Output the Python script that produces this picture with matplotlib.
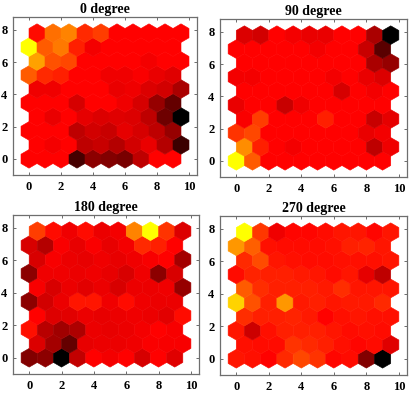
import numpy as np
import matplotlib
matplotlib.use("Agg")
import matplotlib.pyplot as plt
from matplotlib.collections import PolyCollection
from matplotlib.colors import LinearSegmentedColormap, Normalize

titles = ["0 degree", "90 degree", "180 degree", "270 degree"]

# cell intensities (0 = black, 255 = red, 510 = yellow), rows bottom -> top
plane_0 = [
    [255, 255, 255, 70, 140, 130, 120, 190, 255, 255],
    [255, 245, 255, 190, 200, 180, 210, 235, 180, 60],
    [255, 255, 255, 190, 210, 200, 230, 215, 190, 150],
    [255, 235, 255, 230, 220, 225, 220, 190, 110, 0],
    [255, 255, 255, 215, 255, 255, 240, 215, 150, 100],
    [240, 240, 255, 255, 255, 235, 240, 220, 210, 170],
    [345, 295, 285, 255, 255, 240, 240, 250, 235, 225],
    [415, 335, 325, 255, 255, 255, 255, 245, 255, 255],
    [510, 345, 375, 285, 245, 255, 255, 255, 255, 255],
    [265, 365, 385, 295, 315, 255, 255, 255, 255, 255],
]
plane_90 = [
    [510, 345, 255, 255, 255, 255, 255, 255, 255, 255],
    [395, 285, 255, 245, 255, 255, 255, 255, 190, 240],
    [305, 325, 255, 255, 255, 255, 255, 255, 235, 245],
    [250, 315, 255, 255, 255, 285, 255, 255, 200, 230],
    [235, 255, 255, 200, 240, 255, 255, 255, 255, 255],
    [255, 255, 255, 255, 255, 255, 215, 255, 245, 255],
    [245, 245, 255, 255, 255, 255, 245, 255, 235, 220],
    [255, 255, 255, 255, 255, 255, 255, 255, 170, 150],
    [255, 255, 255, 255, 255, 245, 255, 255, 200, 90],
    [220, 210, 255, 245, 235, 235, 255, 255, 170, 0],
]
plane_180 = [
    [130, 140, 0, 195, 255, 245, 255, 215, 255, 225],
    [220, 165, 100, 232, 237, 237, 240, 250, 248, 248],
    [270, 185, 160, 175, 237, 232, 237, 245, 255, 248],
    [255, 222, 227, 237, 232, 237, 240, 237, 227, 265],
    [140, 210, 237, 275, 275, 240, 265, 240, 237, 237],
    [248, 217, 237, 227, 237, 217, 237, 237, 240, 150],
    [140, 240, 240, 237, 240, 232, 217, 240, 140, 217],
    [217, 248, 237, 232, 240, 232, 240, 248, 255, 165],
    [217, 180, 250, 232, 250, 232, 245, 295, 285, 255],
    [315, 265, 240, 265, 237, 245, 385, 510, 305, 220],
]
plane_270 = [
    [275, 270, 255, 295, 325, 305, 260, 265, 130, 0],
    [270, 265, 265, 305, 295, 285, 270, 260, 265, 225],
    [275, 205, 270, 285, 285, 285, 275, 265, 270, 265],
    [300, 285, 285, 290, 280, 255, 270, 275, 270, 270],
    [465, 335, 285, 405, 280, 285, 275, 280, 280, 295],
    [345, 300, 285, 285, 285, 280, 300, 275, 275, 275],
    [265, 290, 285, 285, 280, 275, 265, 275, 230, 190],
    [295, 330, 275, 270, 265, 265, 270, 270, 270, 275],
    [405, 350, 270, 265, 265, 265, 270, 285, 290, 275],
    [510, 310, 240, 260, 260, 265, 275, 275, 260, 275],
]
planes = [plane_0, plane_90, plane_180, plane_270]

x_ticks = [0, 2, 4, 6, 8, 10]
y_ticks = [0, 2, 4, 6, 8]

cmap = LinearSegmentedColormap.from_list(
    "blk_red_yel", [(0.0, (0, 0, 0)), (0.5, (1, 0, 0)), (1.0, (1, 1, 0))])
norm = Normalize(0, 510)

fig = plt.figure(figsize=(4.11, 3.94), dpi=100)
positions = [
    [13 / 411, (394 - 175) / 394, 184 / 411, 158 / 394],
    [220 / 411, (394 - 177) / 394, 187 / 411, 158 / 394],
    [13 / 411, (394 - 374) / 394, 186 / 411, 159 / 394],
    [220 / 411, (394 - 375) / 394, 187 / 411, 159 / 394],
]

h = np.sqrt(3) / 2
r = 1 / np.sqrt(3)
ang = np.deg2rad(np.arange(6) * 60 + 30)
hx = r * np.cos(ang)
hy = r * np.sin(ang)

for pos, title, plane in zip(positions, titles, planes):
    ax = fig.add_axes(pos)
    vals = np.array(plane, dtype=float)
    nrow, ncol = vals.shape
    verts = []
    colors = []
    for i in range(nrow):
        for j in range(ncol):
            cx = j + 0.5 * (i % 2)
            cy = i * h
            verts.append(np.column_stack([cx + hx, cy + hy]))
            colors.append(vals[i, j])
    pc = PolyCollection(verts, array=np.array(colors), cmap=cmap, norm=norm,
                        edgecolors="face", linewidths=0.4)
    ax.add_collection(pc)
    ax.set_xlim(-1, 10.5)
    ax.set_ylim(-1, (nrow - 1) * h + 1)
    ax.set_xticks(x_ticks)
    ax.set_yticks(y_ticks)
    ax.tick_params(direction="in", top=True, right=True, length=2.5,
                   width=0.6, color="#555555", pad=4)
    for lab in ax.get_xticklabels() + ax.get_yticklabels():
        lab.set_fontfamily("Liberation Serif")
        lab.set_fontweight("bold")
        lab.set_fontsize(9)
    for s in ax.spines.values():
        s.set_color("#6e6e6e")
        s.set_linewidth(0.9)
    ax.set_title(title, fontfamily="Liberation Serif", fontweight="bold",
                 fontsize=10, pad=3)

fig.savefig("out.png", dpi=100)
